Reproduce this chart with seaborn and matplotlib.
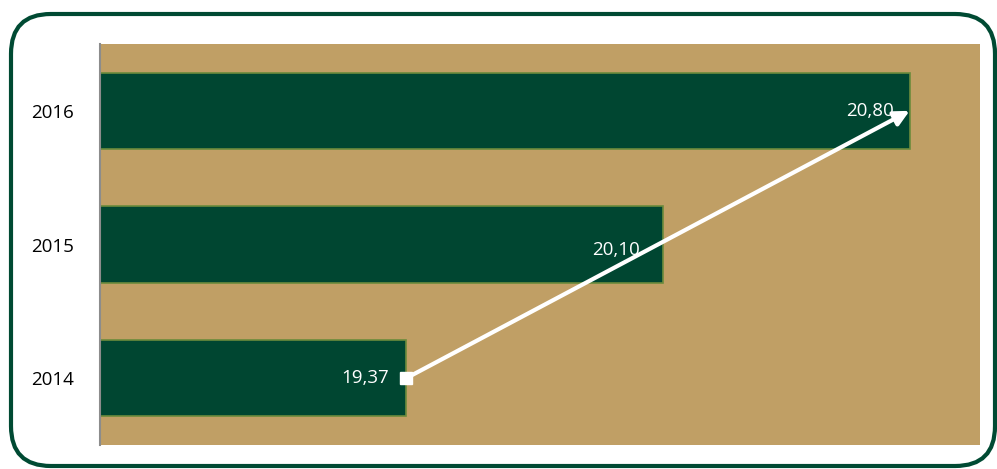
import pandas as pd
import matplotlib.pyplot as plt
import seaborn as sns
from matplotlib.patches import FancyBboxPatch

# DATA

YEARS = ['2016', '2015', '2014']
VALUES = [20.80, 20.10, 19.37]
LABELS = ['20,80', '20,10', '19,37']

BAR_COLOR = '#004631'
EDGE_COLOR = '#6b8b3c'
BG_COLOR = '#c09f65'
BORDER_COLOR = '#004a33'

# PLOT

sns.set_style('white')
plt.rcParams['font.family'] = ['Open Sans', 'DejaVu Sans']

df = pd.DataFrame({'Year': YEARS, 'Value': VALUES})

fig = plt.figure(figsize=(9.97, 4.69), dpi=100)
ax = fig.add_axes([100 / 997, 1 - 445 / 469, 880 / 997, 401 / 469])
ax.set_facecolor(BG_COLOR)

sns.barplot(data=df, x='Value', y='Year', order=YEARS, orient='h',
            color=BAR_COLOR, edgecolor=EDGE_COLOR, linewidth=1.2,
            width=0.57, saturation=1, ax=ax)

ax.set_xlim(18.5, 21.0)
ax.set_ylim(2.5, -0.5)
ax.set_xlabel('')
ax.set_ylabel('')
ax.set_xticks([])
ax.tick_params(axis='y', length=0, pad=19, labelsize=13.5, labelcolor='black')
for side in ['top', 'right', 'bottom']:
    ax.spines[side].set_visible(False)
ax.spines['left'].set_color('#8c8c8c')
ax.spines['left'].set_linewidth(1.5)

# value labels inside bar ends
offsets = [0.0, 0.04, 0.0]
shifts = [0.045, 0.065, 0.048]
for i, (v, lab) in enumerate(zip(VALUES, LABELS)):
    ax.text(v - shifts[i], i + offsets[i], lab, ha='right', va='center',
            color='white', fontsize=13.5)

# trend arrow from 2014 to 2016
i_start = YEARS.index('2014')
i_end = YEARS.index('2016')
ax.annotate('', xy=(VALUES[i_end], i_end), xytext=(VALUES[i_start], i_start),
            arrowprops=dict(arrowstyle='-|>,head_length=0.9,head_width=0.45',
                            color='white', lw=3, shrinkA=0, shrinkB=0))
ax.plot([VALUES[i_start]], [i_start], marker='s', markersize=8,
        color='white', zorder=5)

# rounded border around the chart
border = FancyBboxPatch((11 / 997, 3 / 469), 984 / 997, 452 / 469,
                        boxstyle='round,pad=0,rounding_size=0.04',
                        transform=fig.transFigure, fill=False,
                        edgecolor=BORDER_COLOR, linewidth=3,
                        mutation_aspect=997 / 469)
fig.patches.append(border)

fig.savefig('out.png', dpi=100)
